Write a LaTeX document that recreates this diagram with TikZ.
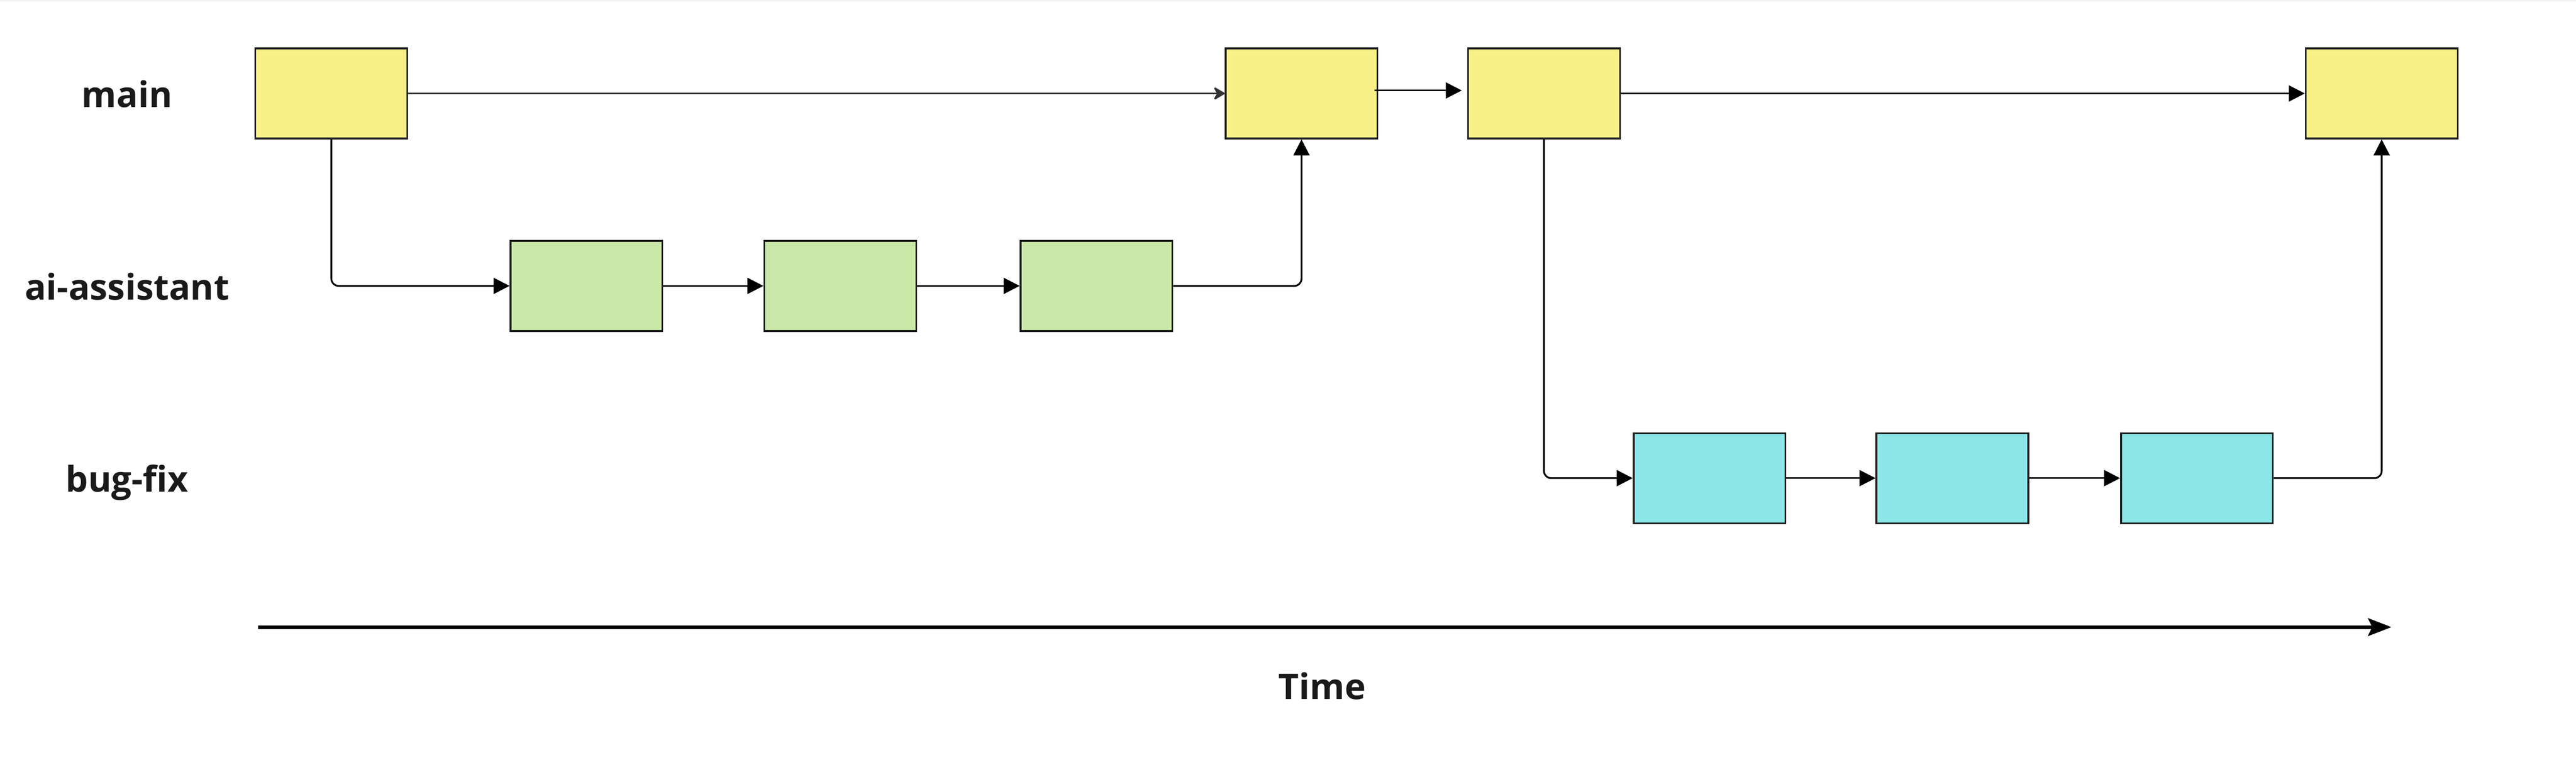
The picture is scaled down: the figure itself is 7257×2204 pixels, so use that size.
\documentclass[tikz,border=0pt]{standalone}
\usepackage{fontspec}
\setmainfont{Open Sans}
\usetikzlibrary{arrows.meta}
\definecolor{myyellow}{HTML}{F9F087}
\definecolor{mygreen}{HTML}{C9E8A7}
\definecolor{mycyan}{HTML}{8BE6E8}
\definecolor{myborder}{HTML}{1E1E1E}
\definecolor{mytext}{HTML}{1A1A1A}
\definecolor{darkline}{HTML}{333333}
\definecolor{topband}{HTML}{F3F3F3}
\begin{document}
\begin{tikzpicture}[x=0.1pt,y=-0.1pt,
  commit/.style={draw=myborder, line width=0.5pt, minimum width=42.8pt,
    minimum height=25.4pt, inner sep=0pt},
  mainc/.style={commit, fill=myyellow},
  aic/.style={commit, fill=mygreen},
  bugc/.style={commit, fill=mycyan},
  lbl/.style={font=\fontsize{10}{12}\selectfont\bfseries, text=mytext,
    inner sep=0pt, anchor=base},
  conn/.style={line width=0.5pt, black, -{Triangle[length=4.5pt,width=4.5pt]}},
  elbowconn/.style={conn, rounded corners=2pt},
  firstconn/.style={line width=0.5pt, darkline,
    -{Stealth[length=3.6pt,width=4.2pt,inset=1.2pt,line join=round]}},
  timeline/.style={line width=1pt, black,
    -{Stealth[length=6.6pt,width=5pt,inset=1.2pt]}}
]
\fill[white] (0,0) rectangle (7257,2204);
\useasboundingbox (0,0) rectangle (7257,2204);
\fill[topband] (0,0) rectangle (7257,4);

% labels
\node[lbl] (lmain) at (358,303) {main};
\node[lbl] (lai) at (358,845) {ai-assistant};
\node[lbl] (lbug) at (358,1387) {bug-fix};
\node[lbl] (ltime) at (3725,1972) {Time};

% main
\node[mainc] (M1) at (933.5,263.5) {};
\node[mainc] (M2) at (3666.5,263.5) {};
\node[mainc] (M3) at (4349.5,263.5) {};
\node[mainc] (M4) at (6709.5,263.5) {};
% ai-assistant
\node[aic] (A1) at (1652,806) {};
\node[aic] (A2) at (2367,806) {};
\node[aic] (A3) at (3089,806) {};
% bug-fix
\node[bugc] (B1) at (4816,1348) {};
\node[bugc] (B2) at (5500,1348) {};
\node[bugc] (B3) at (6189,1348) {};

% connectors
\draw[firstconn] (M1.east) -- (M2.west);
\draw[elbowconn] (M1.south) |- (A1.west);
\draw[conn] (A1.east) -- (A2.west);
\draw[conn] (A2.east) -- (A3.west);
\draw[elbowconn] (A3.east) -| (M2.south);
\draw[conn] ([xshift=-1.1pt,yshift=0.85pt]M2.east) -- ([xshift=-1.5pt,yshift=0.85pt]M3.west);
\draw[conn] (M3.east) -- (M4.west);
\draw[elbowconn] (M3.south) |- (B1.west);
\draw[conn] (B1.east) -- (B2.west);
\draw[conn] (B2.east) -- (B3.west);
\draw[elbowconn] (B3.east) -| (M4.south);

% time axis
\coordinate (t0) at (727,1768);
\coordinate (t1) at (6737,1768);
\draw[timeline] (t0) -- (t1);
\end{tikzpicture}
\end{document}
